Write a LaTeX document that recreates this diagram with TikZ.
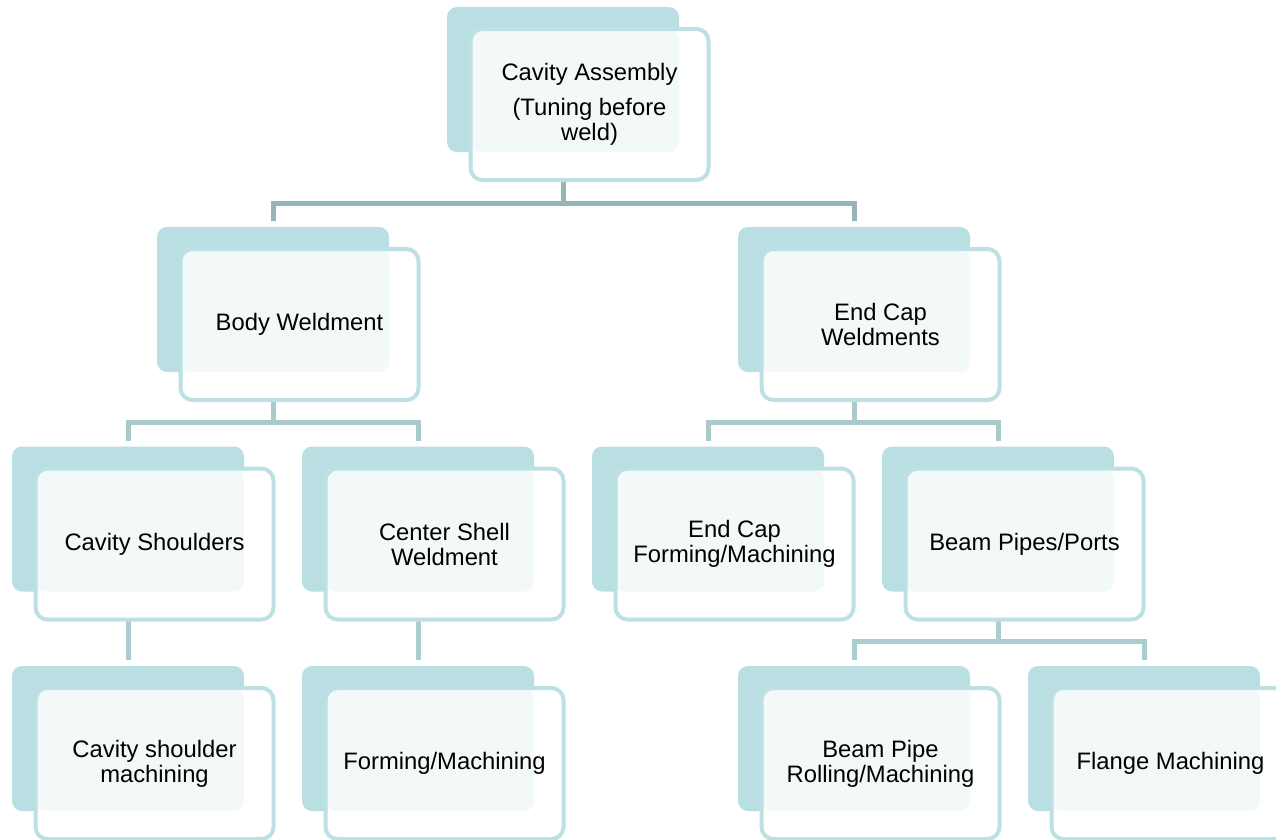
\documentclass[tikz,border=0pt]{standalone}
\usepackage{fontspec}
\setmainfont{Liberation Sans}
\usetikzlibrary{backgrounds}

\definecolor{backfill}{RGB}{186,223,226}
\definecolor{frameline}{RGB}{188,224,227}
\definecolor{haze}{RGB}{243,249,249}
\definecolor{linkone}{RGB}{151,180,184}
\definecolor{linktwo}{RGB}{169,201,203}
\definecolor{linkthree}{RGB}{172,205,207}

\begin{document}
\begin{tikzpicture}[
  x=1pt, y=-1pt,
  back/.style={fill=backfill, rounded corners=10pt, minimum width=232pt,
    minimum height=145pt, inner sep=0pt, outer sep=0pt},
  front/.style={draw=frameline, line width=4pt, fill=white, rounded corners=12pt,
    minimum width=238pt, minimum height=151pt, inner sep=0pt, outer sep=0pt,
    align=center, font=\fontsize{23.8}{25}\selectfont,
    path picture={\fill[haze, rounded corners=10pt]
      (path picture bounding box.north west) rectangle (#1.south east);}},
  link/.style={line width=5pt}
]
\useasboundingbox (0,0) rectangle (1276,839);

% back panels
\node[back] (b-top) at (563,79.5) {};
\node[back] (b-body) at (273,299.5) {};
\node[back] (b-endcap) at (854,299.5) {};
\node[back] (b-shoulders) at (128,519) {};
\node[back] (b-shell) at (418,519) {};
\node[back] (b-ecform) at (708,519) {};
\node[back] (b-pipes) at (998,519) {};
\node[back] (b-shmach) at (128,738.5) {};
\node[back] (b-formmach) at (418,738.5) {};
\node[back] (b-rolling) at (854,738.5) {};
\node[back] (b-flange) at (1144,738.5) {};

% front panels
\node[front=b-top] (top) at ([shift={(26.5,25)}]b-top.center)
  {Cavity Assembly\\[10pt](Tuning before\\weld)};
\node[front=b-body] (body) at ([shift={(26.5,25)}]b-body.center) {Body Weldment};
\node[front=b-endcap] (endcap) at ([shift={(26.5,25)}]b-endcap.center) {End Cap\\Weldments};
\node[front=b-shoulders] (shoulders) at ([shift={(26.5,25)}]b-shoulders.center) {Cavity Shoulders};
\node[front=b-shell] (shell) at ([shift={(26.5,25)}]b-shell.center) {Center Shell\\Weldment};
\node[front=b-ecform] (ecform) at ([shift={(26.5,25)}]b-ecform.center) {End Cap\\Forming/Machining};
\node[front=b-pipes] (pipes) at ([shift={(26.5,25)}]b-pipes.center) {Beam Pipes/Ports};
\node[front=b-shmach] (shmach) at ([shift={(26.5,25)}]b-shmach.center) {Cavity shoulder\\machining};
\node[front=b-formmach] (formmach) at ([shift={(26.5,25)}]b-formmach.center) {Forming/Machining};
\node[front=b-rolling] (rolling) at ([shift={(26.5,25)}]b-rolling.center) {Beam Pipe\\Rolling/Machining};
\node[front=b-flange] (flange) at ([shift={(26.5,25)}]b-flange.center) {Flange Machining};

% connectors
\begin{pgfonlayer}{background}
\draw[link, linkone] (b-top) -- (b-top |- top.south) -- ++(0,23) -| ([yshift=6pt]b-body.north);
\draw[link, linkone] (b-top) -- (b-top |- top.south) -- ++(0,23) -| ([yshift=6pt]b-endcap.north);
\draw[link, linktwo] (b-body) -- (b-body |- body.south) -- ++(0,22) -| ([yshift=6pt]b-shoulders.north);
\draw[link, linktwo] (b-body) -- (b-body |- body.south) -- ++(0,22) -| ([yshift=6pt]b-shell.north);
\draw[link, linktwo] (b-endcap) -- (b-endcap |- endcap.south) -- ++(0,22) -| ([yshift=6pt]b-ecform.north);
\draw[link, linktwo] (b-endcap) -- (b-endcap |- endcap.south) -- ++(0,22) -| ([yshift=6pt]b-pipes.north);
\draw[link, linkthree] (b-shoulders) -- ([yshift=6pt]b-shmach.north);
\draw[link, linkthree] (b-shell) -- ([yshift=6pt]b-formmach.north);
\draw[link, linkthree] (b-pipes) -- (b-pipes |- pipes.south) -- ++(0,22) -| ([yshift=6pt]b-rolling.north);
\draw[link, linkthree] (b-pipes) -- (b-pipes |- pipes.south) -- ++(0,22) -| ([yshift=6pt]b-flange.north);
\end{pgfonlayer}
\end{tikzpicture}
\end{document}
